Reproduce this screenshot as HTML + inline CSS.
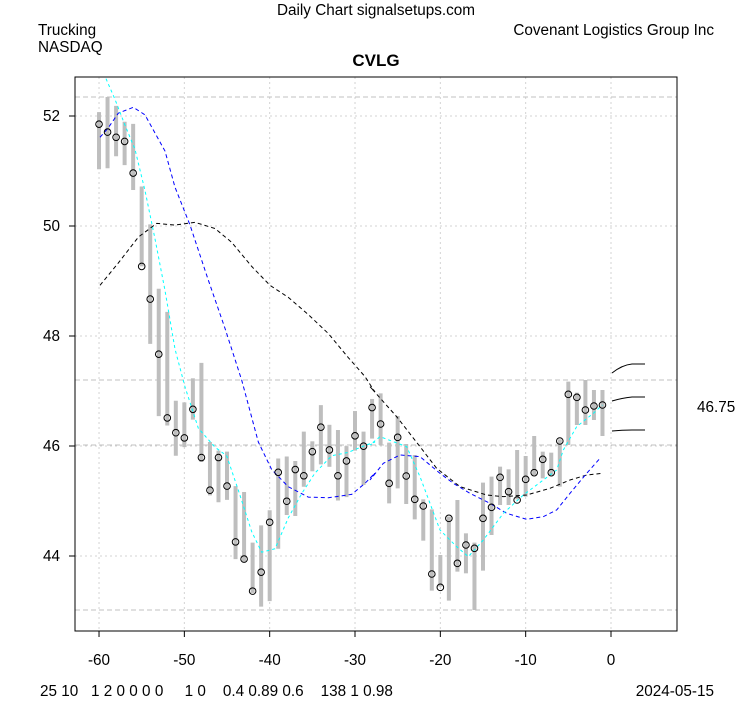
<!DOCTYPE html>
<html><head><meta charset="utf-8"><style>
body{margin:0;background:#fff;width:753px;height:708px;overflow:hidden}
svg{display:block;font-family:"Liberation Sans",Arial,sans-serif}
text{white-space:pre}
</style></head><body>
<svg id="s" width="753" height="708" xmlns="http://www.w3.org/2000/svg">
<rect width="753" height="708" fill="#fff"/>
<g fill="#000" font-size="15.3">
<text x="376" y="15" text-anchor="middle">Daily Chart signalsetups.com</text>
<text x="38" y="35">Trucking</text>
<text x="38" y="52">NASDAQ</text>
<text x="714" y="35" text-anchor="end">Covenant Logistics Group Inc</text>
<text x="376" y="66" text-anchor="middle" font-weight="bold" font-size="17">CVLG</text>
<text x="40" y="696" xml:space="preserve">25 10   1 2 0 0 0 0     1 0    0.4 0.89 0.6    138 1 0.98</text>
<text x="714" y="696" text-anchor="end">2024-05-15</text>
<text x="697" y="412">46.75</text>
</g>
<g id="g"></g>
</svg>
<script>
var NS="http://www.w3.org/2000/svg",g=document.getElementById("g");
function el(t,a,txt){var e=document.createElementNS(NS,t);for(var k in a)e.setAttribute(k,a[k]);if(txt!=null)e.textContent=txt;g.appendChild(e);return e;}
var X=function(v){return 611+v*8.533},Y=function(p){return 556-(p-44)*55};
[-60,-50,-40,-30,-20,-10,0].forEach(function(v){el("line",{x1:X(v),x2:X(v),y1:77,y2:631,stroke:"#d3d3d3","stroke-dasharray":"2,3"});
el("line",{x1:X(v),x2:X(v),y1:631,y2:637,stroke:"#000"});
el("text",{x:X(v),y:665,"text-anchor":"middle","font-size":"15.3"},String(v));});
[44,46,48,50,52].forEach(function(p){el("line",{x1:75,x2:677,y1:Y(p),y2:Y(p),stroke:"#d3d3d3","stroke-dasharray":"2,3"});
el("line",{x1:69,x2:75,y1:Y(p),y2:Y(p),stroke:"#000"});
el("text",{x:60,y:Y(p)+5,"text-anchor":"end","font-size":"15.3"},String(p));});
[97,380,445,610].forEach(function(y){el("line",{x1:75,x2:677,y1:y,y2:y,stroke:"#c0c0c0","stroke-dasharray":"5,3"});});
el("rect",{x:75,y:77,width:602,height:554,fill:"none",stroke:"#000"});
var z1=[[102,268,137],[58,265,160],[84,230,175],[130,256,187],[136,328,279],[318,550,550],[428,775,645],[615,985,805],[682,1012,990],[940,1100,1033],[945,1075,1048],[875,995,965],[830,1118,1105],[1060,1215,1200],[1085,1235,1105],[1088,1228,1188],[1188,1400,1350],[1205,1408,1400],[1352,1498,1493],[1302,1538,1438],[1258,1522,1293],[1108,1370,1148],[1102,1272,1232],[1115,1275,1140],[1030,1190,1158],[1058,1145,1088],[953,1125,1017],[1010,1132,1083],[1025,1230,1158],[1072,1220,1115],[970,1085,1042],[1030,1185,1072],[935,1050,960]];
var z2=[[160,315,252],[308,490,430],[228,445,292],[312,492,408],[345,538,478],[478,602,498],[508,752,702],[645,740,742],[530,782,535],[480,695,670],[580,700,615],[608,810,625],[428,692,535],[410,585,502],[380,495,412],[388,495,455],[330,478,480],[348,470,418],[288,405,398],[335,415,358],[338,405,398],[298,440,303],[125,315,163],[158,255,172],[120,255,210],[150,240,198],[150,288,195]];
var bars=[];
z1.forEach(function(b){bars.push(b.map(function(v){return 77+v/2.904}));});
z2.forEach(function(b){bars.push(b.map(function(v){return 340+v/3}));});
var circ=[];
bars.forEach(function(b,k){var x=X(k-60);el("line",{x1:x,x2:x,y1:b[0],y2:b[1],stroke:"#bebebe","stroke-width":4});circ.push([x,b[2]]);});
function line(p1,p2,col,dash){var pts=p1.map(function(p){return (75+p[0]/3)+","+(77+p[1]/2.904)}).concat(p2.map(function(p){return (370+p[0]/3)+","+(340+p[1]/3)}));
el("polyline",{points:pts.join(" "),fill:"none",stroke:col,"stroke-dasharray":dash});}
line([[75,605],[130,540],[190,465],[245,425],[300,430],[360,422],[420,440],[470,480],[530,550],[585,605],[640,640],[700,690],[760,745],[820,815],[870,870],[900,915]],
[[0,140],[80,230],[150,320],[200,385],[270,440],[350,465],[400,470],[470,465],[540,445],[600,420],[650,405],[697,400]],"#000","4,3");
line([[75,175],[98,150],[130,105],[175,88],[210,110],[270,215],[300,320],[345,430],[400,590],[450,730],[500,880],[550,1060],[590,1140],[640,1190],[700,1220],[760,1222],[830,1212],[870,1180],[900,1150]],
[[0,420],[40,370],[90,345],[150,350],[210,400],[250,430],[300,460],[360,490],[410,520],[470,538],[520,530],[560,510],[600,460],[650,400],[690,355]],"#0000ff","4,3");
line([[93,5],[120,65],[150,140],[180,210],[210,330],[240,470],[270,620],[300,790],[330,900],[370,1020],[420,1075],[455,1100],[490,1200],[530,1320],[560,1380],[600,1370],[640,1280],[680,1210],[720,1150],[770,1100],[820,1090],[870,1070],[900,1060]],
[[0,315],[30,290],[110,320],[150,410],[210,570],[260,620],[295,650],[340,600],[370,560],[400,520],[460,465],[560,390],[580,330],[620,260],[670,220],[697,195]],"#00ffff","3,3");
circ.forEach(function(c){el("circle",{cx:c[0],cy:c[1],r:3.3,fill:"none",stroke:"#000","stroke-width":1});});
[[373,365,364],[401,398,397],[431,430,430]].forEach(function(a){el("path",{d:"M612 "+a[0]+" Q622 "+a[1]+" 632 "+a[2]+" L645 "+a[2],fill:"none",stroke:"#000"});});
</script>
</body></html>
